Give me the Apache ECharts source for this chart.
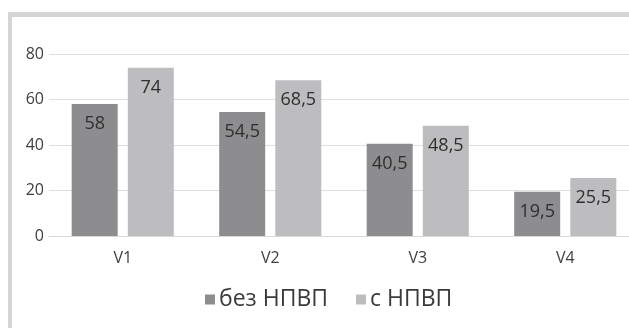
<!DOCTYPE html>
<html lang="ru" style="height: 100%">
<head>
    <meta charset="UTF-8">
    <title>НПВП</title>
    <script src="https://cdn.jsdelivr.net/npm/echarts@6/dist/echarts.min.js"></script>
</head>
<body style="height: 100%; margin: 0; background: #fff">
<div id="main" style="width: 629px; height: 328px"></div>
<script>
    var categories = ['V1', 'V2', 'V3', 'V4'];
    var seriesNames = ['без НПВП', 'с НПВП'];
    var bezNpvp = [58, 54.5, 40.5, 19.5];
    var sNpvp = [74, 68.5, 48.5, 25.5];
    var yTicks = [0, 20, 40, 60, 80];

    var font = '"Open Sans", "DejaVu Sans", sans-serif';

    function commaLabel(p) {
        return String(p.value).replace('.', ',');
    }

    var labelStyle = {
        show: true,
        position: 'insideTop',
        distance: 11,
        formatter: commaLabel,
        color: '#2e2e2e',
        fontSize: 18,
        fontFamily: font
    };

    var myoption = {
        backgroundColor: '#ffffff',
        animation: false,
        graphic: [
            {type: 'rect', shape: {x: 8, y: 12, width: 621, height: 5}, style: {fill: '#d5d5d5'}},
            {type: 'rect', shape: {x: 8, y: 12, width: 4, height: 316}, style: {fill: '#d5d5d5'}}
        ],
        legend: {
            data: seriesNames,
            left: 200,
            top: 283,
            itemWidth: 10,
            itemHeight: 10,
            itemGap: 28,
            icon: 'rect',
            textStyle: {fontSize: 23, color: '#3a3a3a', fontFamily: font, padding: [0, 0, 0, -1]}
        },
        // plot runs a little past the right edge so the bar groups sit where they do in the picture
        grid: {left: 49, width: 590, top: 54, bottom: 92, outerBoundsMode: 'none', containLabel: false},
        xAxis: {
            type: 'category',
            data: categories,
            axisLine: {show: true, lineStyle: {color: '#d9d9d9'}},
            axisTick: {show: false},
            axisLabel: {margin: 14, fontSize: 16, color: '#404040', fontFamily: font}
        },
        yAxis: {
            type: 'value',
            min: yTicks[0],
            max: yTicks[yTicks.length - 1],
            interval: 20,
            axisLine: {show: false},
            axisTick: {show: false},
            axisLabel: {margin: 5, fontSize: 16, color: '#404040', fontFamily: font},
            splitLine: {lineStyle: {color: '#dedede', width: 1}}
        },
        series: [
            {
                name: seriesNames[0],
                type: 'bar',
                data: bezNpvp,
                barWidth: 46,
                barGap: '22%',
                itemStyle: {color: '#8d8d8f'},
                label: labelStyle
            },
            {
                name: seriesNames[1],
                type: 'bar',
                data: sNpvp,
                barWidth: 46,
                itemStyle: {color: '#bdbdbf'},
                label: labelStyle
            }
        ]
    };
    var myChart = echarts.init(document.getElementById('main'));
    myChart.setOption(myoption);
</script>
</body>
</html>
